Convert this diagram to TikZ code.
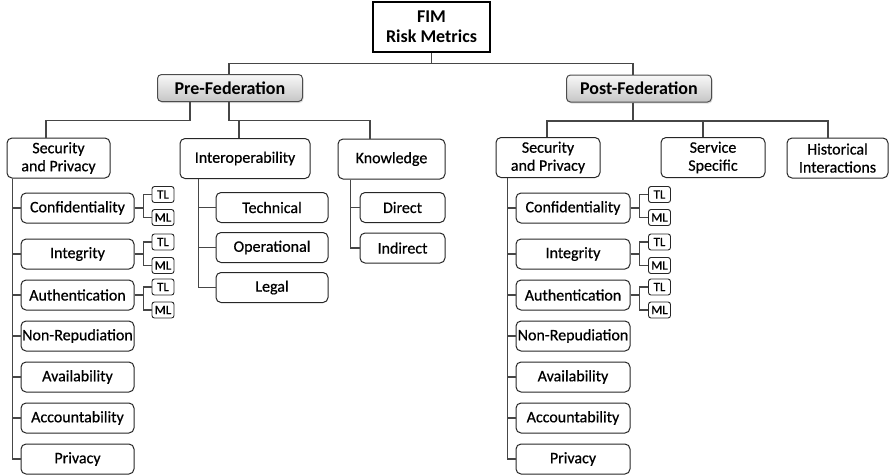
\documentclass[tikz,border=0pt]{standalone}
\usepackage{fontspec}
\setmainfont{Carlito}[UprightFeatures={FakeBold=0.6}]
\usetikzlibrary{positioning,shadows}

\begin{document}
\begin{tikzpicture}[
  x=1pt, y=-1pt,
  root/.style={rectangle, draw=black, line width=1.6pt, minimum width=117pt, minimum height=50pt, inner sep=1pt, align=center, font=\fontsize{18}{20}\selectfont\bfseries},
  phase/.style={rectangle, rounded corners=4pt, draw=gray!60!black, line width=1pt, top color=gray!5, bottom color=gray!45, drop shadow={opacity=0.25, shadow xshift=1pt, shadow yshift=-1.5pt}, minimum width=145pt, minimum height=27pt, font=\fontsize{18}{20}\selectfont\bfseries},
  group/.style={rectangle, rounded corners=5pt, draw=gray!30!black, line width=1pt, minimum height=40pt, inner sep=1pt, align=center, font=\fontsize{16}{18}\selectfont},
  metric/.style={rectangle, rounded corners=5pt, draw=gray!30!black, line width=1pt, minimum height=30pt, inner sep=1pt, font=\fontsize{16}{18}\selectfont},
  level/.style={rectangle, rounded corners=2.5pt, draw=gray!30!black, line width=0.9pt, minimum width=22pt, minimum height=16pt, inner sep=0.5pt, font=\fontsize{13}{13}\selectfont},
  link/.style={draw=gray!55!black, line width=1.3pt},
  node distance=10pt
]
\useasboundingbox (0,0) rectangle (889,475);

\node[root] (fim) at (431.5,27) {FIM\\Risk Metrics};
\node[phase] (pre) at (230,88) {Pre-Federation};
\node[phase] (post) at (639,88.5) {Post-Federation};

% Second level
\node[group, minimum width=103pt] (secL) at (58.5,158) {Security\\and Privacy};
\node[group, minimum width=130pt] (interop) at (245,158.5) {Interoperability};
\node[group, minimum width=107pt] (know) at (391.5,159) {Knowledge};
\node[group, minimum width=104pt] (secR) at (548,157.5) {Security\\and Privacy};
\node[group, minimum width=104pt] (service) at (713,157.5) {Service\\Specific};
\node[group, minimum width=101pt] (hist) at (837.5,158) {Historical\\Interactions};

% Pre-Federation security metrics
\node[metric, minimum width=113pt] (confL) at (77.5,208) {Confidentiality};
\node[metric, minimum width=113pt, below=15pt of confL] (integL) {Integrity};
\node[metric, minimum width=113pt, below=of integL] (authL) {Authentication};
\node[metric, minimum width=113pt, below=of authL] (nonrepL) {Non-Repudiation};
\node[metric, minimum width=113pt, below=of nonrepL] (availL) {Availability};
\node[metric, minimum width=113pt, below=of availL] (accL) {Accountability};
\node[metric, minimum width=113pt, below=of accL] (privL) {Privacy};

\node[level] (tlC1) at (163,194.5) {TL};
\node[level] (mlC1) at (163,217.5) {ML};
\node[level] (tlI1) at (163,242) {TL};
\node[level] (mlI1) at (163,265.5) {ML};
\node[level] (tlA1) at (163,287) {TL};
\node[level] (mlA1) at (163,310) {ML};

% Interoperability and knowledge
\node[metric, minimum width=112pt] (tech) at (272,207.5) {Technical};
\node[metric, minimum width=112pt, below=9pt of tech] (oper) {Operational};
\node[metric, minimum width=112pt, below=9pt of oper] (legal) {Legal};
\node[metric, minimum width=85pt] (direct) at (402.5,207.5) {Direct};
\node[metric, minimum width=85pt, below=9.5pt of direct] (indirect) {Indirect};

% Post-Federation security metrics
\node[metric, minimum width=114pt] (confR) at (573,208) {Confidentiality};
\node[metric, minimum width=114pt, below=15pt of confR] (integR) {Integrity};
\node[metric, minimum width=114pt, below=of integR] (authR) {Authentication};
\node[metric, minimum width=114pt, below=of authR] (nonrepR) {Non-Repudiation};
\node[metric, minimum width=114pt, below=of nonrepR] (availR) {Availability};
\node[metric, minimum width=114pt, below=of availR] (accR) {Accountability};
\node[metric, minimum width=114pt, below=of accR] (privR) {Privacy};

\node[level] (tlC2) at (659.5,194.5) {TL};
\node[level] (mlC2) at (659.5,217.5) {ML};
\node[level] (tlI2) at (659.5,242) {TL};
\node[level] (mlI2) at (659.5,265.5) {ML};
\node[level] (tlA2) at (659.5,287) {TL};
\node[level] (mlA2) at (659.5,310) {ML};

% Top tree
\draw[link] (fim.south) -- ++(0,11) -| ([xshift=-1pt]pre.north);
\draw[link] (fim.south) -- ++(0,11) -| ([xshift=-6pt]post.north);

\draw[link] ([xshift=-40pt]pre.south) -- ++(0,18.5) -| ([xshift=-12.5pt]secL.north);
\draw[link] ([xshift=-1pt]pre.south) -- ++(0,18.5) -| ([xshift=-6pt]interop.north);
\draw[link] ([xshift=-1pt]pre.south) -- ++(0,18.5) -| ([xshift=-21.5pt]know.north);

\draw[link] ([xshift=-6pt]post.south) -- ++(0,18.5) -| ([xshift=-1pt]secR.north);
\draw[link] ([xshift=-6pt]post.south) -- ++(0,18.5) -| ([xshift=-10pt]service.north);
\draw[link] ([xshift=-6pt]post.south) -- ++(0,18.5) -| ([xshift=-9.5pt]hist.north);

% Left trunks
\draw[link] ([xshift=6pt]secL.south west) |- (confL);
\draw[link] ([xshift=6pt]secL.south west) |- (integL);
\draw[link] ([xshift=6pt]secL.south west) |- (authL);
\draw[link] ([xshift=6pt]secL.south west) |- (nonrepL);
\draw[link] ([xshift=6pt]secL.south west) |- (availL);
\draw[link] ([xshift=6pt]secL.south west) |- (accL);
\draw[link] ([xshift=6pt]secL.south west) |- (privL);

\draw[link] ([xshift=19pt]interop.south west) |- (tech);
\draw[link] ([xshift=19pt]interop.south west) |- (oper);
\draw[link] ([xshift=19pt]interop.south west) |- (legal);
\draw[link] ([xshift=13pt]know.south west) |- (direct);
\draw[link] ([xshift=13pt]know.south west) |- (indirect);

\draw[link] ([xshift=12pt]secR.south west) |- (confR);
\draw[link] ([xshift=12pt]secR.south west) |- (integR);
\draw[link] ([xshift=12pt]secR.south west) |- (authR);
\draw[link] ([xshift=12pt]secR.south west) |- (nonrepR);
\draw[link] ([xshift=12pt]secR.south west) |- (availR);
\draw[link] ([xshift=12pt]secR.south west) |- (accR);
\draw[link] ([xshift=12pt]secR.south west) |- (privR);

% TL/ML forks
\draw[link] (confL.east) -- ++(9,0) |- (tlC1);
\draw[link] (confL.east) -- ++(9,0) |- (mlC1);
\draw[link] (integL.east) -- ++(9,0) |- (tlI1);
\draw[link] (integL.east) -- ++(9,0) |- (mlI1);
\draw[link] (authL.east) -- ++(9,0) |- (tlA1);
\draw[link] (authL.east) -- ++(9,0) |- (mlA1);

\draw[link] (confR.east) -- ++(9,0) |- (tlC2);
\draw[link] (confR.east) -- ++(9,0) |- (mlC2);
\draw[link] (integR.east) -- ++(9,0) |- (tlI2);
\draw[link] (integR.east) -- ++(9,0) |- (mlI2);
\draw[link] (authR.east) -- ++(9,0) |- (tlA2);
\draw[link] (authR.east) -- ++(9,0) |- (mlA2);
\end{tikzpicture}
\end{document}
